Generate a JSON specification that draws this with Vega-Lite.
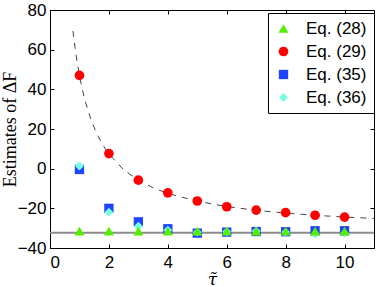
{
  "$schema": "https://vega.github.io/schema/vega-lite/v6.json",
  "width": 324,
  "height": 238,
  "autosize": {"type": "none"},
  "padding": {"left": 50, "top": 10, "right": 8, "bottom": 39},
  "background": "white",
  "config": {
    "view": {"stroke": "black", "strokeWidth": 1},
    "axis": {
      "domainColor": "black",
      "tickColor": "black",
      "labelColor": "black",
      "labelFont": "Liberation Sans",
      "labelFontSize": 17,
      "grid": false
    }
  },
  "datasets": {
    "curve": [
      {"tau": 0.78, "v": 69.4},
      {"tau": 0.85, "v": 61.0},
      {"tau": 0.9, "v": 55.8},
      {"tau": 1.0, "v": 47.0},
      {"tau": 1.1, "v": 39.8},
      {"tau": 1.2, "v": 33.8},
      {"tau": 1.4, "v": 24.3},
      {"tau": 1.6, "v": 17.3},
      {"tau": 1.8, "v": 11.8},
      {"tau": 2.0, "v": 7.4},
      {"tau": 2.5, "v": -0.6},
      {"tau": 3.0, "v": -5.9},
      {"tau": 3.5, "v": -9.6},
      {"tau": 4.0, "v": -12.5},
      {"tau": 5.0, "v": -16.4},
      {"tau": 6.0, "v": -19.1},
      {"tau": 7.0, "v": -21.0},
      {"tau": 8.0, "v": -22.4},
      {"tau": 9.0, "v": -23.5},
      {"tau": 10.0, "v": -24.4},
      {"tau": 11.0, "v": -25.1}
    ],
    "pts": [
      {"tau": 1, "v": -0.4, "series": "Eq. (35)"},
      {"tau": 2, "v": -20, "series": "Eq. (35)"},
      {"tau": 3, "v": -26.8, "series": "Eq. (35)"},
      {"tau": 4, "v": -30.3, "series": "Eq. (35)"},
      {"tau": 5, "v": -32.5, "series": "Eq. (35)"},
      {"tau": 6, "v": -32, "series": "Eq. (35)"},
      {"tau": 7, "v": -31.7, "series": "Eq. (35)"},
      {"tau": 8, "v": -31.8, "series": "Eq. (35)"},
      {"tau": 9, "v": -31.3, "series": "Eq. (35)"},
      {"tau": 10, "v": -31.3, "series": "Eq. (35)"},
      {"tau": 1, "v": 1.3, "series": "Eq. (36)"},
      {"tau": 2, "v": -22, "series": "Eq. (36)"},
      {"tau": 3, "v": -29, "series": "Eq. (36)"},
      {"tau": 4, "v": -31, "series": "Eq. (36)"},
      {"tau": 5, "v": -32, "series": "Eq. (36)"},
      {"tau": 6, "v": -31.8, "series": "Eq. (36)"},
      {"tau": 7, "v": -31.5, "series": "Eq. (36)"},
      {"tau": 8, "v": -32, "series": "Eq. (36)"},
      {"tau": 9, "v": -33, "series": "Eq. (36)"},
      {"tau": 10, "v": -32.5, "series": "Eq. (36)"},
      {"tau": 1, "v": -31.5, "series": "Eq. (28)"},
      {"tau": 2, "v": -31.5, "series": "Eq. (28)"},
      {"tau": 3, "v": -31.5, "series": "Eq. (28)"},
      {"tau": 4, "v": -31.5, "series": "Eq. (28)"},
      {"tau": 5, "v": -31.5, "series": "Eq. (28)"},
      {"tau": 6, "v": -31.5, "series": "Eq. (28)"},
      {"tau": 7, "v": -31.5, "series": "Eq. (28)"},
      {"tau": 8, "v": -31.5, "series": "Eq. (28)"},
      {"tau": 9, "v": -31.5, "series": "Eq. (28)"},
      {"tau": 10, "v": -31.5, "series": "Eq. (28)"},
      {"tau": 1, "v": 47, "series": "Eq. (29)"},
      {"tau": 2, "v": 7.6, "series": "Eq. (29)"},
      {"tau": 3, "v": -5.8, "series": "Eq. (29)"},
      {"tau": 4, "v": -12.2, "series": "Eq. (29)"},
      {"tau": 5, "v": -16.3, "series": "Eq. (29)"},
      {"tau": 6, "v": -19.2, "series": "Eq. (29)"},
      {"tau": 7, "v": -20.9, "series": "Eq. (29)"},
      {"tau": 8, "v": -22.2, "series": "Eq. (29)"},
      {"tau": 9, "v": -23.5, "series": "Eq. (29)"},
      {"tau": 10, "v": -24.4, "series": "Eq. (29)"}
    ],
    "truth": [{"v": -32.3}]
  },
  "resolve": {"axis": {"x": "independent", "y": "independent"}},
  "layer": [
    {
      "data": {"name": "truth"},
      "mark": {"type": "rule", "color": "#8c8c8c", "strokeWidth": 2},
      "encoding": {
        "y": {"field": "v", "type": "quantitative", "scale": {"domain": [-40, 80], "nice": false}, "axis": null}
      }
    },
    {
      "data": {"name": "curve"},
      "mark": {"type": "line", "color": "#444444", "strokeWidth": 1, "strokeDash": [6, 6]},
      "encoding": {
        "x": {"field": "tau", "type": "quantitative", "scale": {"domain": [0, 11], "nice": false},
              "axis": {"orient": "top", "values": [0, 2, 4, 6, 8, 10], "labels": false, "title": null, "tickSize": -4, "domain": false}},
        "y": {"field": "v", "type": "quantitative", "scale": {"domain": [-40, 80], "nice": false},
              "axis": {"orient": "right", "values": [-40, -20, 0, 20, 40, 60, 80], "labels": false, "title": null, "tickSize": -4, "domain": false}}
      }
    },
    {
      "data": {"name": "pts"},
      "mark": {"type": "point", "filled": true, "opacity": 1},
      "encoding": {
        "x": {"field": "tau", "type": "quantitative", "scale": {"domain": [0, 11], "nice": false},
              "axis": {"orient": "bottom", "values": [0, 2, 4, 6, 8, 10], "tickSize": -4, "labelPadding": 10,
                       "title": "τ̃", "titleFont": "DejaVu Serif", "titleFontStyle": "italic", "titleFontWeight": "normal", "titleFontSize": 17, "titlePadding": 1}},
        "y": {"field": "v", "type": "quantitative", "scale": {"domain": [-40, 80], "nice": false},
              "axis": {"orient": "left", "values": [-40, -20, 0, 20, 40, 60, 80], "tickSize": -4, "labelPadding": 8,
                       "title": "Estimates of ΔF", "titleFont": "Liberation Serif", "titleFontWeight": "normal", "titleFontSize": 18,
                       "titleX": -40, "titleBaseline": "middle"}},
        "color": {"field": "series", "type": "nominal",
                  "scale": {"domain": ["Eq. (28)", "Eq. (29)", "Eq. (35)", "Eq. (36)"], "range": ["#55ee00", "#ff0000", "#1f44ff", "#78ffe0"]},
                  "legend": {"orient": "none", "legendX": 218, "legendY": 3, "title": null, "fillColor": "white", "strokeColor": "black",
                             "padding": 7, "labelFont": "Liberation Sans", "labelFontSize": 17, "labelColor": "black", "symbolSize": 28,
                             "rowPadding": 5, "labelOffset": 14, "symbolOpacity": 1}},
        "shape": {"field": "series", "type": "nominal",
                  "scale": {"domain": ["Eq. (28)", "Eq. (29)", "Eq. (35)", "Eq. (36)"], "range": ["triangle-up", "circle", "square", "diamond"]}},
        "size": {"field": "series", "type": "nominal",
                 "scale": {"domain": ["Eq. (28)", "Eq. (29)", "Eq. (35)", "Eq. (36)"], "range": [100, 80, 40, 75]}, "legend": null}
      }
    }
  ]
}
